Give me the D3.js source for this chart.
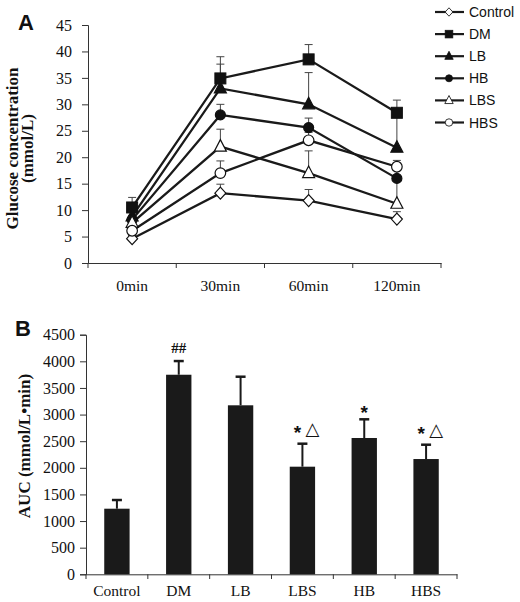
<!DOCTYPE html>
<html><head><meta charset="utf-8">
<script src="https://cdn.jsdelivr.net/npm/d3@7"></script>
<style>body{margin:0;background:#fff}svg{display:block}</style>
</head><body>
<script>
// ---- Data ----
const timePoints = ["0min", "30min", "60min", "120min"];
const glucoseTicks = [0, 5, 10, 15, 20, 25, 30, 35, 40, 45];
const seriesNames = ["Control", "DM", "LB", "HB", "LBS", "HBS"];
const controlVals = [4.6, 13.2, 11.8, 8.3];
const dmVals = [10.5, 34.9, 38.5, 28.4];
const lbVals = [8.8, 33.0, 30.0, 21.8];
const hbVals = [8.2, 28.0, 25.6, 16.0];
const lbsVals = [7.6, 22.0, 17.0, 11.2];
const hbsVals = [6.1, 17.0, 23.2, 18.2];
const controlErr = [0.6, 1.7, 2.1, 1.4];
const dmErr = [1.9, 4.1, 2.8, 2.4];
const lbErr = [1.0, 4.6, 6.0, 6.5];
const hbErr = [0.8, 2.0, 1.8, 1.5];
const lbsErr = [0.8, 3.3, 4.2, 4.5];
const hbsErr = [0.7, 2.3, 1.5, 1.2];

const aucGroups = ["Control", "DM", "LB", "LBS", "HB", "HBS"];
const aucVals = [1232, 3748, 3174, 2021, 2560, 2165];
const aucErr = [163, 257, 537, 432, 351, 269];
const aucStars = ["", "", "", "*", "*", "*"];
const aucTriangles = ["", "", "", "△", "", "△"];
const aucHashes = ["", "##", "", "", "", ""];
const aucTicks = [0, 500, 1000, 1500, 2000, 2500, 3000, 3500, 4000, 4500];

const seriesVals = [controlVals, dmVals, lbVals, hbVals, lbsVals, hbsVals];
const seriesErr = [controlErr, dmErr, lbErr, hbErr, lbsErr, hbsErr];
const seriesShape = ["diamond", "square", "triangle", "circle", "triangle", "circle"];
const seriesFilled = [false, true, true, true, false, false];

const serif = "'Liberation Serif','Times New Roman',serif";
const sans = "'Liberation Sans',Arial,sans-serif";
const ink = "#111";

const svg = d3.select("body").append("svg").attr("width", 520).attr("height", 602);

function styleAxis(a, size) {
  a.attr("font-family", serif).attr("font-size", size);
  a.select(".domain").attr("stroke", "#333");
  a.selectAll(".tick line").attr("stroke", "#333");
  a.selectAll("text").attr("font-family", serif).attr("font-size", size).attr("fill", ink);
}

// ---- Panel A ----
const aX = d3.scaleBand().domain(timePoints).range([88, 441]);
const aY = d3.scaleLinear().domain([0, 45]).range([263, 25]);
const gA = svg.append("g");

const axA = gA.append("g").attr("transform", "translate(88,0)")
  .call(d3.axisLeft(aY).tickValues(glucoseTicks).tickSize(6).tickPadding(10));
styleAxis(axA, 16);
const axAx = gA.append("g").attr("transform", "translate(0,263)")
  .call(d3.axisBottom(aX).tickSize(0).tickPadding(17));
styleAxis(axAx, 15.5);
gA.selectAll("line.bt").data(d3.range(timePoints.length + 1)).join("line")
  .attr("x1", i => 88 + i * aX.step()).attr("x2", i => 88 + i * aX.step())
  .attr("y1", 263).attr("y2", 268).attr("stroke", "#333");

const cx = t => aX(t) + aX.bandwidth() / 2;
const lineGen = d3.line().x((d, i) => cx(timePoints[i])).y(d => aY(d));

function drawSymbol(g, shape, filled, x, y) {
  const fill = filled ? ink : "#fff";
  if (shape === "square") {
    g.append("rect").attr("x", x - 5.5).attr("y", y - 5.5).attr("width", 11).attr("height", 11)
      .attr("fill", ink).attr("stroke", ink);
  } else if (shape === "circle") {
    g.append("circle").attr("cx", x).attr("cy", y).attr("r", filled ? 5 : 5.3)
      .attr("fill", fill).attr("stroke", ink).attr("stroke-width", 1.2);
  } else if (shape === "triangle") {
    g.append("path").attr("d", `M${x},${y - 7}L${x + 6},${y + 4.5}L${x - 6},${y + 4.5}Z`)
      .attr("fill", fill).attr("stroke", ink).attr("stroke-width", 1.2);
  } else if (shape === "diamond") {
    g.append("path").attr("d", `M${x},${y - 6}L${x + 5.5},${y}L${x},${y + 6}L${x - 5.5},${y}Z`)
      .attr("fill", fill).attr("stroke", ink).attr("stroke-width", 1.2);
  }
}

seriesVals.forEach((vals, s) => {
  vals.forEach((v, i) => {
    const x = cx(timePoints[i]);
    const yT = aY(v + seriesErr[s][i]);
    gA.append("line").attr("x1", x).attr("x2", x).attr("y1", aY(v)).attr("y2", yT)
      .attr("stroke", "#444").attr("stroke-width", 1);
    gA.append("line").attr("x1", x - 4).attr("x2", x + 4).attr("y1", yT).attr("y2", yT)
      .attr("stroke", "#444").attr("stroke-width", 1);
  });
});
seriesVals.forEach(vals => {
  gA.append("path").attr("d", lineGen(vals)).attr("fill", "none")
    .attr("stroke", "#1a1a1a").attr("stroke-width", 2.3);
});
seriesVals.forEach((vals, s) => {
  vals.forEach((v, i) => drawSymbol(gA, seriesShape[s], seriesFilled[s], cx(timePoints[i]), aY(v)));
});

gA.append("text").attr("transform", "translate(18,148.5) rotate(-90)").attr("text-anchor", "middle")
  .attr("font-family", serif).attr("font-weight", "bold").attr("font-size", 17).attr("fill", ink)
  .text("Glucose concentration");
gA.append("text").attr("transform", "translate(33,148.5) rotate(-90)").attr("text-anchor", "middle")
  .attr("font-family", serif).attr("font-weight", "bold").attr("font-size", 17).attr("fill", ink)
  .text("(mmol/L)");
gA.append("text").attr("x", 18).attr("y", 30).attr("font-family", sans).attr("font-weight", "bold")
  .attr("font-size", 22).attr("fill", ink).text("A");

const leg = gA.append("g");
seriesNames.forEach((n, s) => {
  const y = 12 + s * 22.1;
  leg.append("line").attr("x1", 435).attr("x2", 464).attr("y1", y).attr("y2", y)
    .attr("stroke", "#1a1a1a").attr("stroke-width", 2.2);
  const g = leg.append("g").attr("transform", `translate(449,${y}) scale(0.7) translate(-449,${-y})`);
  drawSymbol(g, seriesShape[s], seriesFilled[s], 449, y);
  leg.append("text").attr("x", 469).attr("y", y + 5).attr("font-family", sans).attr("font-size", 14)
    .attr("fill", ink).text(n);
});

// ---- Panel B ----
const bX = d3.scaleBand().domain(aucGroups).range([86, 457]).paddingInner(0.59).paddingOuter(0.295);
const bY = d3.scaleLinear().domain([0, 4500]).range([574.3, 334.7]);
const gB = svg.append("g");
const axB = gB.append("g").attr("transform", "translate(86,0)")
  .call(d3.axisLeft(bY).tickValues(aucTicks).tickFormat(d3.format("d")).tickSize(6).tickPadding(5));
styleAxis(axB, 16);
const axBx = gB.append("g").attr("transform", "translate(0,574.3)")
  .call(d3.axisBottom(bX).tickSize(0).tickPadding(11));
styleAxis(axBx, 15.5);
const stepB = (457 - 86) / aucGroups.length;
gB.selectAll("line.bt").data(d3.range(aucGroups.length + 1)).join("line")
  .attr("x1", i => 86 + i * stepB).attr("x2", i => 86 + i * stepB)
  .attr("y1", 574.3).attr("y2", 579).attr("stroke", "#333");

const bcx = g => bX(g) + bX.bandwidth() / 2;
aucGroups.forEach((g, i) => {
  const x = bcx(g);
  const yT = bY(aucVals[i] + aucErr[i]);
  gB.append("line").attr("x1", x).attr("x2", x).attr("y1", bY(aucVals[i])).attr("y2", yT)
    .attr("stroke", "#1a1a1a").attr("stroke-width", 2);
  gB.append("line").attr("x1", x - 5).attr("x2", x + 5).attr("y1", yT).attr("y2", yT)
    .attr("stroke", "#1a1a1a").attr("stroke-width", 2.5);
});
gB.selectAll("rect.bar").data(aucGroups).join("rect")
  .attr("x", d => bX(d)).attr("width", bX.bandwidth())
  .attr("y", (d, i) => bY(aucVals[i])).attr("height", (d, i) => 574.3 - bY(aucVals[i]))
  .attr("fill", "#1a1a1a");

aucGroups.forEach((g, i) => {
  const x = bcx(g);
  const yT = bY(aucVals[i] + aucErr[i]);
  const hasTri = aucTriangles[i] !== "";
  const gap = hasTri ? 15 : 10;
  if (aucStars[i]) {
    gB.append("text").attr("x", x - (hasTri ? 5 : 0)).attr("y", yT - gap + 10)
      .attr("text-anchor", "middle").attr("font-family", sans).attr("font-weight", "bold")
      .attr("font-size", 19).attr("fill", ink).text(aucStars[i]);
  }
  if (hasTri) {
    gB.append("text").attr("x", x + 10).attr("y", yT - gap + 6)
      .attr("text-anchor", "middle").attr("font-family", "'DejaVu Sans',sans-serif")
      .attr("font-size", 18).attr("fill", ink).text(aucTriangles[i]);
  }
  if (aucHashes[i]) {
    gB.append("text").attr("x", x).attr("y", yT - 8)
      .attr("text-anchor", "middle").attr("font-family", serif).attr("font-weight", "bold")
      .attr("font-size", 15).attr("fill", ink).text(aucHashes[i]);
  }
});

gB.append("text").attr("transform", "translate(30,446) rotate(-90)").attr("text-anchor", "middle")
  .attr("font-family", serif).attr("font-weight", "bold").attr("font-size", 17).attr("fill", ink)
  .text("AUC (mmol/L•min)");
gB.append("text").attr("x", 15).attr("y", 336).attr("font-family", sans).attr("font-weight", "bold")
  .attr("font-size", 22).attr("fill", ink).text("B");
</script>
</body></html>
